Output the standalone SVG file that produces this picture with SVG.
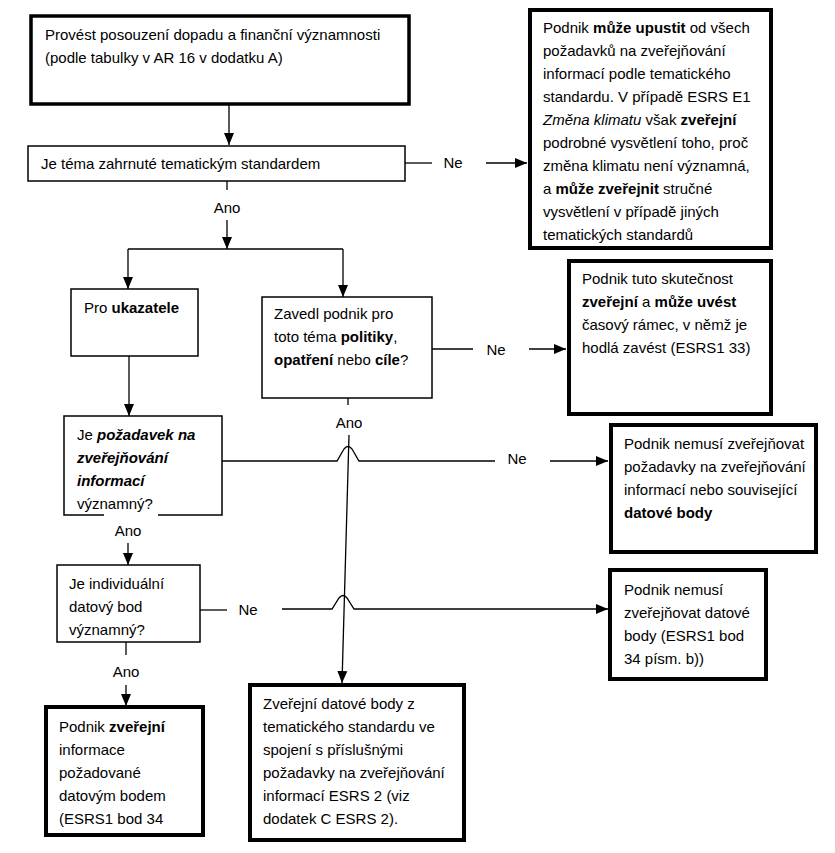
<svg xmlns="http://www.w3.org/2000/svg" width="835" height="853" viewBox="0 0 835 853">
<style>
.thin{fill:#fff;stroke:#000;stroke-width:1.5}
.thick{fill:#fff;stroke:#000;stroke-width:4}
text{font-family:"Liberation Sans",Arial,sans-serif;font-size:15px;fill:#000}
.lbl{text-anchor:middle}
.b{font-weight:bold}
.i{font-style:italic}
.c{fill:none;stroke:#000;stroke-width:1.3}
</style>
<defs>
<marker id="ah" markerUnits="userSpaceOnUse" markerWidth="12" markerHeight="12" viewBox="0 0 12 12" refX="12" refY="6" orient="auto">
<path d="M0,1 L12,6 L0,11 Z" fill="#000"/>
</marker>
</defs>
<rect width="835" height="853" fill="#fff"/>

<g id="connectors">
<path class="c" d="M229 105 V145" marker-end="url(#ah)"/>
<path class="c" d="M405 163 H432"/>
<path class="c" d="M486 163 H527" marker-end="url(#ah)"/>
<path class="c" d="M227 181 V190"/>
<path class="c" d="M227 220 V249" marker-end="url(#ah)"/>
<path class="c" d="M128 249 H343"/>
<path class="c" d="M128 249 V289" marker-end="url(#ah)"/>
<path class="c" d="M343 249 V297" marker-end="url(#ah)"/>
<path class="c" d="M432 349 H473"/>
<path class="c" d="M529 349 H566" marker-end="url(#ah)"/>
<path class="c" d="M129 356 V416" marker-end="url(#ah)"/>
<path class="c" d="M348 398 V405"/>
<path class="c" d="M349 435 L342 683" marker-end="url(#ah)"/>
<path class="c" d="M211 461 H337 L344 449 Q348 444 352 449 L359 461 H495"/>
<path class="c" d="M550 461 H608" marker-end="url(#ah)"/>
<path class="c" d="M128 543 V565" marker-end="url(#ah)"/>
<path class="c" d="M200 610 H227"/>
<path class="c" d="M282 609 H332 L339 598 Q343 593 347 598 L354 609 H608" marker-end="url(#ah)"/>
<path class="c" d="M126 642 V655"/>
<path class="c" d="M126 685 V706" marker-end="url(#ah)"/>
<text class="lbl" x="453" y="168">Ne</text>
<text class="lbl" x="227" y="213">Ano</text>
<text class="lbl" x="496" y="355">Ne</text>
<text class="lbl" x="349" y="428">Ano</text>
<text class="lbl" x="517" y="464">Ne</text>
<text class="lbl" x="128" y="536">Ano</text>
<text class="lbl" x="248" y="615">Ne</text>
<text class="lbl" x="126" y="677">Ano</text>
</g>

<g id="n1">
<rect class="thick" x="31" y="16" width="378" height="88" style="stroke-width:3.5"/>
<text x="45" y="40">Provést posouzení dopadu a finanční významnosti</text>
<text x="45" y="63">(podle tabulky v AR 16 v dodatku A)</text>
</g>

<g id="n2">
<rect class="thin" x="28" y="146" width="377" height="35"/>
<text x="41" y="169">Je téma zahrnuté tematickým standardem</text>
</g>

<g id="n3">
<rect class="thick" x="530" y="10" width="241" height="238"/>
<text x="543" y="33">Podnik <tspan class="b">může upustit</tspan> od všech</text>
<text x="543" y="56">požadavků na zveřejňování</text>
<text x="543" y="79">informací podle tematického</text>
<text x="543" y="102">standardu. V případě ESRS E1</text>
<text x="543" y="125"><tspan class="i">Změna klimatu</tspan> však <tspan class="b">zveřejní</tspan></text>
<text x="543" y="148">podrobné vysvětlení toho, proč</text>
<text x="543" y="171">změna klimatu není významná,</text>
<text x="543" y="194">a <tspan class="b">může zveřejnit</tspan> stručné</text>
<text x="543" y="217">vysvětlení v případě jiných</text>
<text x="543" y="240">tematických standardů</text>
</g>

<g id="n4">
<rect class="thin" x="71" y="289" width="127" height="67"/>
<text x="84" y="313">Pro <tspan class="b">ukazatele</tspan></text>
</g>

<g id="n5">
<rect class="thin" x="262" y="297" width="170" height="101"/>
<text x="274" y="319">Zavedl podnik pro</text>
<text x="274" y="342">toto téma <tspan class="b">politiky</tspan>,</text>
<text x="274" y="365"><tspan class="b">opatření</tspan> nebo <tspan class="b">cíle</tspan>?</text>
</g>

<g id="n6">
<rect class="thick" x="569" y="261" width="202" height="153"/>
<text x="582" y="284">Podnik tuto skutečnost</text>
<text x="582" y="307"><tspan class="b">zveřejní</tspan> a <tspan class="b">může uvést</tspan></text>
<text x="582" y="330">časový rámec, v němž je</text>
<text x="582" y="353">hodlá zavést (ESRS1 33)</text>
</g>

<g id="n7">
<path class="thin" d="M104 515 H64 V416 H222 V515 H158"/>
<text x="77" y="440">Je <tspan class="b i">požadavek na</tspan></text>
<text x="77" y="463" class="b i">zveřejňování</text>
<text x="77" y="486" class="b i">informací</text>
<text x="77" y="509">významný?</text>
</g>

<g id="n8">
<rect class="thick" x="611" y="425" width="205" height="127"/>
<text x="624" y="449">Podnik nemusí zveřejňovat</text>
<text x="624" y="472">požadavky na zveřejňování</text>
<text x="624" y="495">informací nebo související</text>
<text x="624" y="518" class="b">datové body</text>
</g>

<g id="n9">
<rect class="thin" x="57" y="565" width="143" height="77"/>
<text x="69" y="589">Je individuální</text>
<text x="69" y="612">datový bod</text>
<text x="69" y="635">významný?</text>
</g>

<g id="n10">
<rect class="thick" x="610" y="570" width="156" height="109"/>
<text x="624" y="595">Podnik nemusí</text>
<text x="624" y="618">zveřejňovat datové</text>
<text x="624" y="641">body (ESRS1 bod</text>
<text x="624" y="664">34 písm. b))</text>
</g>

<g id="n11">
<rect class="thick" x="46" y="707" width="157" height="128"/>
<text x="59" y="732">Podnik <tspan class="b">zveřejní</tspan></text>
<text x="59" y="755">informace</text>
<text x="59" y="778">požadované</text>
<text x="59" y="801">datovým bodem</text>
<text x="59" y="824">(ESRS1 bod 34</text>
</g>

<g id="n12">
<rect class="thick" x="250" y="685" width="214" height="155"/>
<text x="263" y="709">Zveřejní datové body z</text>
<text x="263" y="732">tematického standardu ve</text>
<text x="263" y="755">spojení s příslušnými</text>
<text x="263" y="778">požadavky na zveřejňování</text>
<text x="263" y="801">informací ESRS 2 (viz</text>
<text x="263" y="824">dodatek C ESRS 2).</text>
</g>
</svg>
